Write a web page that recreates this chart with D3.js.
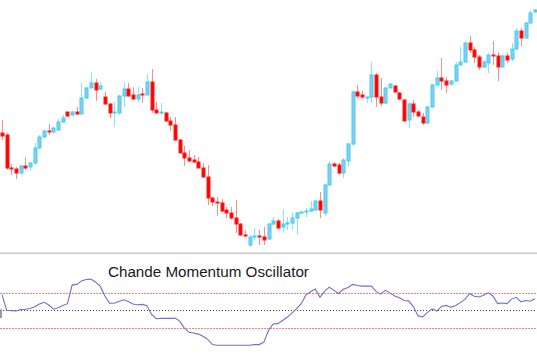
<!DOCTYPE html>
<html>
<head>
<meta charset="utf-8">
<script src="https://cdn.jsdelivr.net/npm/d3@7"></script>
<style>
  html, body { margin: 0; padding: 0; background: #fff; }
  svg { display: block; }
</style>
</head>
<body>
<svg id="chart" width="537" height="361"></svg>
<script>
// Candle data (price units)
const opens  = [127,125,92,91,87,94,93,97,112,123,129,128,130,138,148,145,148,146,162,172,177,171,163,156,147,147,164,171,165,161,166,165,178,150,147,147,139,135,120,107,102,100,98,92,83,62,58,57,50,47,42,36,25,15,23,24,23,21,36,39,33,36,37,42,47,48,49,50,59,47,75,96,95,87,99,116,168,165,162,163,185,163,157,172,174,167,160,140,156,148,143,137,153,175,182,179,176,179,195,198,217,210,203,193,197,205,204,193,204,201,211,229,222,237,248];
const highs  = [140,127,96,93,95,103,98,117,125,130,136,133,141,145,148,149,153,177,173,188,181,178,168,157,158,165,177,177,173,173,172,186,191,158,157,148,143,143,121,114,110,105,103,97,95,63,63,61,53,53,60,37,30,25,32,30,33,37,43,41,51,43,48,49,49,52,59,60,68,76,99,98,97,102,117,170,175,169,163,198,187,182,173,177,175,168,161,158,160,150,147,154,176,189,202,183,180,198,213,219,224,213,205,200,207,219,208,205,207,217,232,232,238,250,251];
const lows   = [120,90,85,81,85,90,89,95,111,122,125,126,129,137,143,144,145,146,161,172,159,170,155,142,133,145,153,163,160,158,157,165,147,147,145,138,129,119,107,94,98,97,92,82,55,54,44,48,42,40,27,24,23,13,20,15,15,20,35,30,27,30,30,25,46,43,48,50,42,44,75,93,85,82,93,114,161,161,157,157,153,154,156,172,167,160,139,132,143,143,135,136,152,174,170,167,174,178,194,197,207,197,190,192,187,195,179,193,197,199,210,214,221,237,247];
const closes = [124,92,91,87,94,92,97,112,123,129,128,132,138,142,144,148,146,162,172,177,170,174,156,147,148,164,171,164,161,165,165,178,150,147,148,139,135,120,107,102,99,98,92,83,62,58,57,49,47,42,36,25,24,23,24,23,20,36,39,32,36,37,42,47,48,49,51,59,50,75,96,94,87,100,116,168,164,163,163,185,163,157,172,176,168,161,139,156,148,144,137,153,175,182,179,175,179,195,198,217,210,203,193,198,205,204,193,204,200,211,229,222,237,247,250];
// Chande Momentum Oscillator, one value per candle
const cmo = [45,0,-1,-2,2,3,5,10,18,23,15,3,7,14,19,72,74,84,88,89,81,69,41,20,20,25,30,25,18,16,17,13,-12,-24,-23,-23,-23,-22,-31,-51,-63,-65,-68,-74,-83,-98,-100,-100,-100,-100,-100,-100,-100,-100,-98,-98,-91,-58,-39,-38,-29,-20,-8,5,19,44,53,61,37,54,66,57,48,60,65,74,71,69,69,69,54,46,57,49,41,36,28,27,10,-16,-19,-6,4,-2,11,14,9,13,22,31,48,40,38,43,50,41,19,21,19,32,37,24,28,26,33];
const cmoLevels = [50, 0, -50];
const title = "Chande Momentum Oscillator";

const svg = d3.select("#chart");
const idx = d3.range(opens.length);

const x = d3.scalePoint().domain(idx).range([2, 535]);
const y = d3.scaleLinear().domain([10, 260]).range([250, 0]);
const yc = d3.scaleLinear().domain([-100, 100]).range([345.3, 275.3]);

const bodyW = 3;

// wicks
svg.append("g").selectAll("line").data(idx).join("line")
  .attr("x1", i => Math.round(x(i)) + 0.5)
  .attr("x2", i => Math.round(x(i)) + 0.5)
  .attr("y1", i => y(highs[i]))
  .attr("y2", i => y(lows[i]))
  .attr("stroke", i => closes[i] < opens[i] ? "#ff8c8c" : "#7fe8ff")
  .attr("stroke-width", 1);

// bodies
svg.append("g").selectAll("rect").data(idx).join("rect")
  .attr("x", i => Math.round(x(i)) + 0.5 - bodyW / 2)
  .attr("y", i => y(Math.max(opens[i], closes[i])))
  .attr("width", bodyW)
  .attr("height", i => Math.max(1, Math.abs(y(opens[i]) - y(closes[i]))))
  .attr("fill", i => closes[i] < opens[i] ? "#ff0000" : "#8ec8f6")
  .attr("stroke", i => closes[i] < opens[i] ? "#ff1a1a" : "#3fd0ec")
  .attr("stroke-width", 1);

// separator
svg.append("line")
  .attr("x1", 0).attr("x2", 537)
  .attr("y1", 253.3).attr("y2", 253.3)
  .attr("stroke", "#c8c8c8").attr("stroke-width", 1.5);

// level lines
svg.append("g").selectAll("line").data(cmoLevels).join("line")
  .attr("x1", 0).attr("x2", 537)
  .attr("y1", d => Math.round(yc(d)) + 0.5)
  .attr("y2", d => Math.round(yc(d)) + 0.5)
  .attr("stroke", d => d === 0 ? "#444" : "#ff8080")
  .attr("stroke-width", 1)
  .attr("stroke-dasharray", d => d === 0 ? "1,2" : "2,1");

// small gray marker at left
svg.append("rect")
  .attr("x", 0).attr("y", yc(0) - 1)
  .attr("width", 2).attr("height", yc(-22) - yc(0) + 1)
  .attr("fill", "#9a9a9a");

// CMO line
svg.append("path")
  .datum(idx)
  .attr("fill", "none")
  .attr("stroke", "#6f6fcf")
  .attr("stroke-width", 1.1)
  .attr("d", d3.line().x(i => x(i)).y(i => yc(cmo[i])));

// title
svg.append("text")
  .attr("x", 108).attr("y", 276.5)
  .attr("font-family", "Liberation Sans, Arial, sans-serif")
  .attr("font-size", 15.2)
  .attr("fill", "#1a1a1a")
  .text(title);
</script>
</body>
</html>
